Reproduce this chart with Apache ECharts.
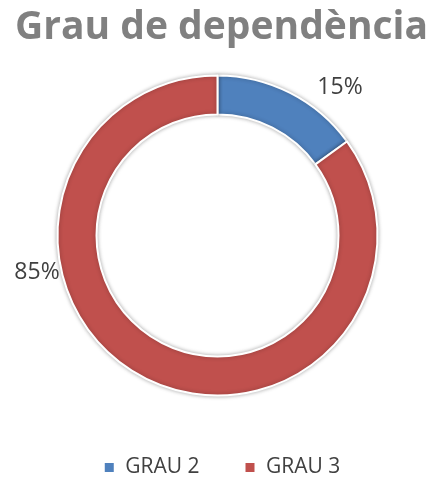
<!DOCTYPE html>
<html>
<head>
<meta charset="utf-8">
<script src="https://cdn.jsdelivr.net/npm/echarts@6/dist/echarts.min.js"></script>
<style>
  html, body { margin: 0; padding: 0; background: #fff; }
  #chart { width: 443px; height: 483px; }
</style>
</head>
<body>
<div id="chart"></div>
<script>
'use strict';

var categories = ['GRAU 2', 'GRAU 3'];
var values = [15, 85];
var colors = ['#4f81bd', '#c0504d'];

// label spots picked to match the reference
var labelSpots = [
    { x: 340, y: 87 },
    { x: 37, y: 272 }
];

var chart = echarts.init(document.getElementById('chart'));

var seriesData = categories.map(function (name, i) {
    return { name: name, value: values[i], itemStyle: { color: colors[i] } };
});

chart.setOption({
    animation: false,
    title: {
        text: 'Grau de dependència',
        left: 'center',
        top: 3,
        textStyle: {
            fontFamily: 'Open Sans',
            fontWeight: 'bold',
            fontSize: 39,
            color: '#808080'
        }
    },
    legend: {
        data: categories,
        bottom: 0,
        left: 'center',
        icon: 'rect',
        itemWidth: 11,
        itemHeight: 11,
        itemGap: 44,
        formatter: function (name) { return ' ' + name; },
        textStyle: {
            fontFamily: 'Open Sans',
            fontSize: 21,
            color: '#404040'
        }
    },
    series: [{
        type: 'pie',
        center: [217.5, 235.5],
        radius: [121, 160],
        startAngle: 90,
        clockwise: true,
        itemStyle: {
            borderColor: '#fff',
            borderWidth: 2,
            shadowBlur: 4,
            shadowColor: 'rgba(0,0,0,0.3)'
        },
        label: {
            show: true,
            formatter: function (p) { return Math.round(p.percent) + '%'; },
            fontFamily: 'Open Sans',
            fontSize: 23,
            color: '#404040'
        },
        labelLine: { show: false },
        labelLayout: function (params) {
            var spot = labelSpots[params.dataIndex];
            return { x: spot.x, y: spot.y, align: 'center', verticalAlign: 'middle' };
        },
        emphasis: { disabled: true },
        data: seriesData
    }]
});
</script>
</body>
</html>
